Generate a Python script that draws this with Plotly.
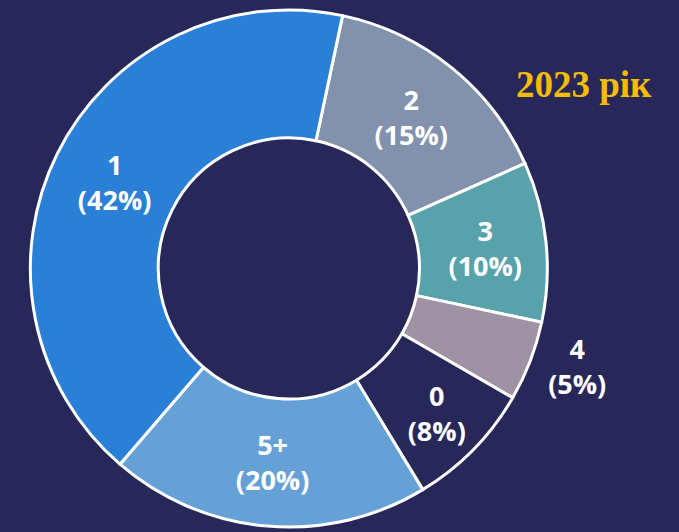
import plotly.graph_objects as go

categories = ["2", "3", "4", "0", "5+", "1"]
values = [15, 10, 5, 8, 20, 42]
slice_colors = ["#8291ac", "#58a2ac", "#9e92a4", "#27275a", "#65a1d6", "#2a7fd6"]
positions = ["inside", "inside", "outside", "inside", "inside", "inside"]
title_text = "2023 рік"

bg = "#27275a"

fig = go.Figure(go.Pie(
    labels=categories,
    values=values,
    sort=False,
    direction="clockwise",
    rotation=12,
    hole=0.505,
    marker=dict(colors=slice_colors, line=dict(color="white", width=3)),
    texttemplate="%{label}<br>(%{percent:.0%})",
    textposition=positions,
    insidetextorientation="horizontal",
    textfont=dict(family="Open Sans", size=27, color="white", weight="bold"),
    showlegend=False,
    domain=dict(x=[0, 0.8195], y=[0, 1]),
))

fig.add_annotation(
    text=f"<b>{title_text}</b>", xref="paper", yref="paper",
    x=581 / 679, y=1 - (85 - 10) / 522, xanchor="center", yanchor="middle",
    showarrow=False,
    font=dict(family="Liberation Serif", size=37, color="#f5bd00"),
)

fig.update_layout(
    width=679, height=532,
    margin=dict(l=0, r=0, t=10, b=0),
    paper_bgcolor=bg, plot_bgcolor=bg,
)
fig.write_html("out.html", config={"displayModeBar": False},
               post_script="document.body.style.margin='0px';document.body.style.background='" + bg + "';")
